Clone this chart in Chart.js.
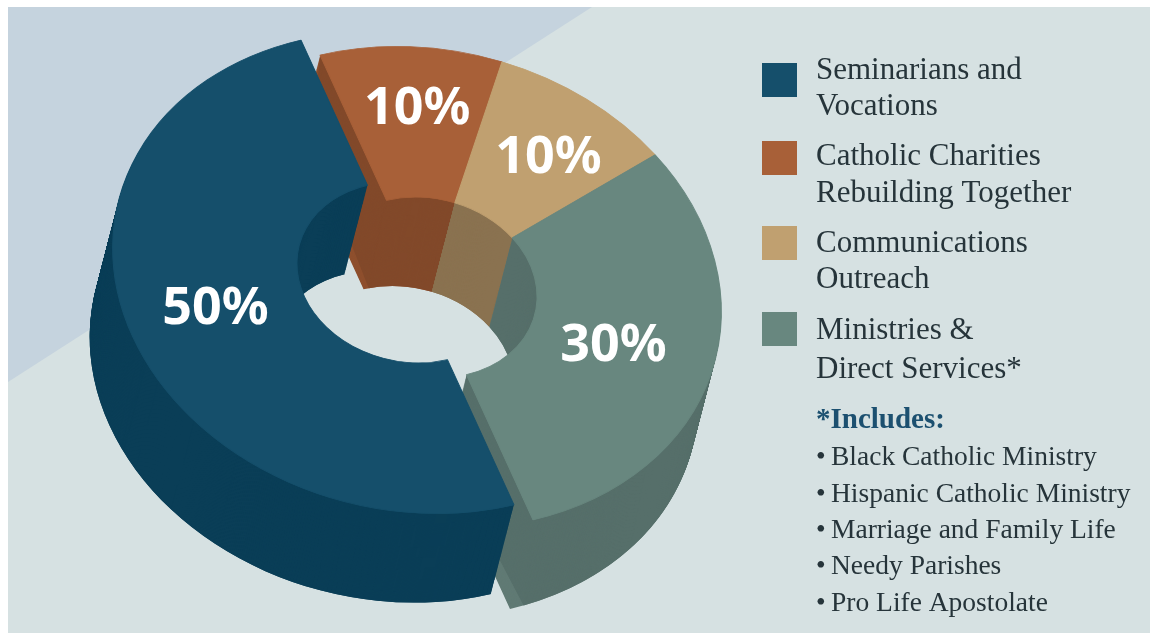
<!DOCTYPE html>
<html>
<head>
<meta charset="utf-8">
<title>Donut</title>
<style>
  body { margin: 0; background: #fff; }
  canvas { display: block; }
</style>
<script src="https://cdn.jsdelivr.net/npm/chart.js@4"></script>
</head>
<body>
<canvas id="donut" width="1150" height="639"></canvas>
<script>
const categories = ['Seminarians and Vocations', 'Catholic Charities Rebuilding Together', 'Communications Outreach', 'Ministries & Direct Services*'];
const shares = [50, 10, 10, 30];
const legendLines = [['Seminarians and', 'Vocations'], ['Catholic Charities', 'Rebuilding Together'], ['Communications', 'Outreach'], ['Ministries &', 'Direct Services*']];
const includesTitle = '*Includes:';
const includes = ['Black Catholic Ministry', 'Hispanic Catholic Ministry', 'Marriage and Family Life', 'Needy Parishes', 'Pro Life Apostolate'];
const topColors = ['#154f6b', '#a86038', '#c0a070', '#68877f'];
const wallColors = ['#0a3e57', '#82492a', '#8a7250', '#566f6a'];
const faceColors = ['#0a3e57', '#8e4f2d', '#8a7250', '#607a74'];

// the flat ring is pushed through this matrix to get the tilted look
const RADIUS = 295;
const CENTER = [426.5, 287.5];
const TILT = [0.932, -0.217, 0.361, 0.788];
const DEPTH = [-23, 89];
const EXPLODE = [[-19, -15], [0, 0], [0, 0], [0, 0]];
const WALL_TRIM = [[0, 0], [0.05, 0], [0, 0], [0, 0.05]]; // leaves the cut face showing
const LABEL_NUDGE = [[-3, -7], [2, -13], [12, 0], [-9, 0]];
const SERIF = '"Liberation Serif"';

function tilted(ctx, arc, shift) {
  ctx.translate(CENTER[0] + shift[0], CENTER[1] + shift[1]);
  ctx.transform(TILT[0], TILT[1], TILT[2], TILT[3], 0, 0);
  ctx.translate(-arc.x, -arc.y);
}

function drawCopy(ctx, arc, shift, color, trimStart, trimEnd) {
  const saved = [arc.options, arc.startAngle, arc.endAngle, arc.circumference];
  arc.options = Object.assign({}, saved[0], { backgroundColor: color, borderWidth: 0 });
  arc.startAngle = saved[1] + trimStart;
  arc.endAngle = saved[2] - trimEnd;
  arc.circumference = saved[3] - trimStart - trimEnd;
  ctx.save();
  tilted(ctx, arc, shift);
  arc.draw(ctx);
  ctx.restore();
  arc.options = saved[0];
  arc.startAngle = saved[1];
  arc.endAngle = saved[2];
  arc.circumference = saved[3];
}

const donut3d = {
  id: 'donut3d',
  beforeDraw(chart) {
    const ctx = chart.ctx;
    ctx.fillStyle = '#fff';
    ctx.fillRect(0, 0, 1150, 639);
    ctx.fillStyle = '#d6e1e2';
    ctx.fillRect(8, 7, 1142, 626);
    ctx.fillStyle = '#c5d3de';
    ctx.beginPath();
    ctx.moveTo(8, 7);
    ctx.lineTo(592, 7);
    ctx.lineTo(8, 382);
    ctx.closePath();
    ctx.fill();
  },
  beforeDatasetsDraw(chart) {
    const ctx = chart.ctx;
    const arcs = chart.getDatasetMeta(0).data;
    // side walls first, blue last so it sits over the green one
    [1, 2, 3, 0].forEach(i => {
      const arc = arcs[i];
      const steps = 90;
      for (let s = steps; s > 0; s--) {
        const k = s / steps;
        drawCopy(ctx, arc, [EXPLODE[i][0] + DEPTH[0] * k, EXPLODE[i][1] + DEPTH[1] * k], faceColors[i], 0, 0);
      }
      for (let s = steps; s > 0; s--) {
        const k = s / steps;
        drawCopy(ctx, arc, [EXPLODE[i][0] + DEPTH[0] * k, EXPLODE[i][1] + DEPTH[1] * k], wallColors[i], WALL_TRIM[i][0] * k, WALL_TRIM[i][1] * k);
      }
    });
    [1, 2, 3, 0].forEach(i => {
      ctx.save();
      tilted(ctx, arcs[i], EXPLODE[i]);
      arcs[i].draw(ctx);
      ctx.restore();
    });
    return false;
  },
  afterDraw(chart) {
    const ctx = chart.ctx;
    const arcs = chart.getDatasetMeta(0).data;
    ctx.fillStyle = '#fff';
    ctx.font = 'bold 52px "Noto Sans"';
    ctx.textAlign = 'center';
    ctx.textBaseline = 'middle';
    arcs.forEach((arc, i) => {
      const p = arc.getCenterPoint();
      const dx = p.x - arc.x;
      const dy = p.y - arc.y;
      const x = CENTER[0] + EXPLODE[i][0] + TILT[0] * dx + TILT[2] * dy + LABEL_NUDGE[i][0];
      const y = CENTER[1] + EXPLODE[i][1] + TILT[1] * dx + TILT[3] * dy + LABEL_NUDGE[i][1];
      ctx.fillText(shares[i] + '%', x, y);
    });

    ctx.textAlign = 'left';
    ctx.textBaseline = 'alphabetic';
    const swatchY = [63, 141, 226, 312];
    const lineY = [[79, 115], [165, 202], [252, 288], [339, 378]];
    legendLines.forEach((lines, i) => {
      ctx.fillStyle = topColors[i];
      ctx.fillRect(762, swatchY[i], 35, 34);
      ctx.fillStyle = '#26343a';
      ctx.font = '31px ' + SERIF;
      lines.forEach((line, j) => ctx.fillText(line, 816, lineY[i][j]));
    });
    ctx.fillStyle = '#1c5070';
    ctx.font = 'bold 29px ' + SERIF;
    ctx.fillText(includesTitle, 816, 428);
    ctx.fillStyle = '#26343a';
    ctx.font = '27.5px ' + SERIF;
    const itemY = [465, 502, 538, 574, 611];
    includes.forEach((item, i) => {
      ctx.fillText('\u2022', 816, itemY[i]);
      ctx.fillText(item, 831, itemY[i]);
    });
  }
};

new Chart(document.getElementById('donut'), {
  type: 'doughnut',
  data: {
    labels: categories,
    datasets: [{
      data: shares,
      backgroundColor: topColors,
      borderColor: topColors,
      borderWidth: 1
    }]
  },
  options: {
    responsive: false,
    animation: false,
    events: [],
    rotation: 180,
    cutout: '37.5%',
    radius: RADIUS,
    plugins: { legend: { display: false }, tooltip: { enabled: false } }
  },
  plugins: [donut3d]
});
</script>
</body>
</html>
